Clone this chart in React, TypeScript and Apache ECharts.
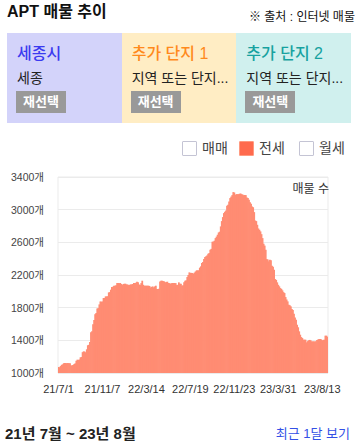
import React, { useEffect, useRef } from "react";
import * as echarts from "echarts";

const tickDates = ["21/7/1", "21/11/7", "22/3/14", "22/7/19", "22/11/23", "23/3/31", "23/8/13"];
const yTicks = [1000, 1400, 1800, 2200, 2600, 3000, 3400];

const listings = [
  1075, 1070, 1085, 1100, 1106, 1118, 1122, 1122, 1120, 1122,
  1118, 1120, 1090, 1096, 1098, 1110, 1118, 1150, 1163, 1160,
  1165, 1192, 1196, 1255, 1265, 1262, 1253, 1290, 1340, 1345,
  1380, 1500, 1510, 1596, 1650, 1720, 1735, 1790, 1795, 1840,
  1876, 1873, 1876, 1918, 1918, 1938, 1938, 1940, 1987, 1990,
  2020, 2053, 2055, 2069, 2069, 2075, 2102, 2102, 2100, 2102,
  2090, 2077, 2090, 2093, 2093, 2085, 2085, 2077, 2080, 2085,
  2085, 2090, 2102, 2102, 2105, 2118, 2110, 2085, 2077, 2100,
  2130, 2080, 2069, 2069, 2069, 2069, 2069, 2065, 2048, 2055,
  2060, 2048, 2060, 2069, 2028, 2030, 2032, 2120, 2130, 2130,
  2125, 2122, 2110, 2115, 2118, 2102, 2100, 2093, 2100, 2102,
  2102, 2102, 2100, 2077, 2080, 2110, 2093, 2093, 2069, 2075,
  2110, 2130, 2135, 2175, 2200, 2232, 2226, 2226, 2224, 2216,
  2230, 2244, 2257, 2257, 2257, 2290, 2306, 2346, 2360, 2395,
  2420, 2430, 2440, 2460, 2469, 2509, 2520, 2607, 2610, 2620,
  2652, 2670, 2693, 2721, 2730, 2795, 2860, 2909, 2958, 2975,
  2990, 3048, 3060, 3100, 3142, 3160, 3178, 3215, 3210, 3182,
  3190, 3190, 3190, 3195, 3198, 3190, 3185, 3178, 3180, 3178,
  3150, 3142, 3121, 3090, 3072, 3039, 3030, 2970, 2868, 2860,
  2815, 2770, 2754, 2734, 2700, 2652, 2583, 2560, 2509, 2395,
  2390, 2367, 2387, 2380, 2314, 2300, 2265, 2150, 2140, 2110,
  2080, 2061, 2040, 2030, 2012, 1990, 1979, 1930, 1900, 1877,
  1836, 1830, 1816, 1783, 1770, 1726, 1680, 1652, 1591, 1560,
  1510, 1469, 1440, 1428, 1408, 1408, 1408, 1375, 1390, 1400,
  1405, 1400, 1387, 1387, 1387, 1387, 1390, 1405, 1410, 1416,
  1416, 1412, 1400, 1405, 1408, 1457, 1457, 1445,
];

const panels = [
  { title: "세종시", sub: "세종", bg: "#D3D3FA", color: "#3A3AF0" },
  { title: "추가 단지 1", sub: "지역 또는 단지...", bg: "#FFEDC4", color: "#FF8A1C" },
  { title: "추가 단지 2", sub: "지역 또는 단지...", bg: "#D0F0EE", color: "#17A2A0" },
];

const legendItems = [
  { name: "매매", on: false },
  { name: "전세", on: true },
  { name: "월세", on: false },
];

const BARS_PER_TICK = 42;

function parseYmd(s: string): Date {
  const [y, m, d] = s.split("/").map(Number);
  return new Date(2000 + y, m - 1, d);
}
function fmt(d: Date): string {
  return `${d.getFullYear() % 100}/${d.getMonth() + 1}/${d.getDate()}`;
}
function buildCategories(n: number): string[] {
  const out: string[] = [];
  const ts = tickDates.map(parseYmd);
  for (let i = 0; i < n; i++) {
    const k = Math.floor(i / BARS_PER_TICK);
    const j = i % BARS_PER_TICK;
    if (k < ts.length - 1) {
      const span = (ts[k + 1].getTime() - ts[k].getTime()) / 86400000;
      const d = new Date(ts[k]);
      d.setDate(d.getDate() + Math.round((j * span) / BARS_PER_TICK));
      out.push(fmt(d));
    } else {
      const d = new Date(ts[ts.length - 1]);
      d.setDate(d.getDate() + j * 3);
      out.push(fmt(d));
    }
  }
  return out;
}

const FONT = "'Liberation Sans', 'Noto Sans CJK KR', sans-serif";

export default function App() {
  const ref = useRef<HTMLDivElement>(null);
  useEffect(() => {
    if (!ref.current) return;
    const chart = echarts.init(ref.current, undefined, { renderer: "svg" });
    const categories = buildCategories(listings.length);
    chart.setOption({
      animation: false,
      textStyle: { fontFamily: FONT },
      grid: {
        left: 58,
        right: 30,
        top: 17,
        height: 196,
        show: true,
        borderColor: "#EBEBEB",
        borderWidth: 1,
      },
      xAxis: {
        type: "category",
        data: categories,
        boundaryGap: true,
        axisLine: { show: false },
        axisTick: { show: false },
        axisLabel: {
          interval: BARS_PER_TICK - 1,
          fontSize: 11,
          color: "#333",
          margin: 10,
          fontFamily: FONT,
        },
      },
      yAxis: {
        type: "value",
        min: yTicks[0],
        max: yTicks[yTicks.length - 1],
        interval: 400,
        axisLine: { show: false },
        axisTick: { show: false },
        splitLine: { lineStyle: { color: "#EBEBEB" } },
        axisLabel: {
          fontSize: 10.5,
          color: "#444",
          margin: 14,
          fontFamily: FONT,
          formatter: (v: number) => `${v}개`,
        },
      },
      graphic: [
        {
          type: "text",
          x: 329,
          y: 29,
          style: {
            text: "매물 수",
            fontSize: 12,
            fill: "#333",
            textAlign: "right",
            textVerticalAlign: "middle",
            fontFamily: FONT,
          },
        },
      ],
      series: [
        {
          type: "bar",
          data: listings,
          barWidth: "170%",
          barGap: "-100%",
          itemStyle: { color: "#FF8C73" },
        },
      ],
    });
    return () => chart.dispose();
  }, []);

  const panelW = 344 / 3;

  return (
    <div
      style={{
        position: "absolute",
        left: 0,
        top: 0,
        width: 358,
        height: 447,
        overflow: "hidden",
        background: "#fff",
        fontFamily: FONT,
        color: "#222",
      }}
    >
      <div
        style={{
          position: "absolute",
          left: 7,
          top: 2,
          fontSize: 16,
          lineHeight: "20px",
          fontWeight: 700,
          color: "#111",
          whiteSpace: "nowrap",
        }}
      >
        APT 매물 추이
      </div>
      <div
        style={{
          position: "absolute",
          left: 249,
          top: 9,
          fontSize: 12,
          lineHeight: "16px",
          color: "#111",
          whiteSpace: "nowrap",
        }}
      >
        ※ 출처 : 인터넷 매물
      </div>

      {panels.map((p, i) => (
        <div
          key={i}
          style={{
            position: "absolute",
            left: 7 + i * panelW,
            top: 33,
            width: panelW,
            height: 90,
            background: p.bg,
          }}
        >
          <div
            style={{
              position: "absolute",
              left: 10,
              top: 11,
              fontSize: 16,
              lineHeight: "20px",
              color: p.color,
              fontWeight: 500,
              whiteSpace: "nowrap",
            }}
          >
            {p.title}
          </div>
          <div
            style={{
              position: "absolute",
              left: 10,
              top: 36,
              fontSize: 14,
              lineHeight: "18px",
              color: "#222",
              whiteSpace: "nowrap",
            }}
          >
            {p.sub}
          </div>
          <div
            style={{
              position: "absolute",
              left: 9,
              top: 58,
              width: 50,
              height: 22,
              background: "#999",
              color: "#fff",
              fontSize: 13,
              fontWeight: 700,
              lineHeight: "22px",
              textAlign: "center",
              whiteSpace: "nowrap",
            }}
          >
            재선택
          </div>
        </div>
      ))}

      {legendItems.map((l, i) => {
        const xs = [182, 239, 299];
        return (
          <div key={l.name}>
            <div
              style={{
                position: "absolute",
                left: xs[i],
                top: 141,
                width: 13,
                height: 13,
                border: l.on ? "1px solid #FF9A80" : "1px solid #C4C4D4",
                background: l.on ? "#FF6A4D" : "#fff",
                borderRadius: 1,
              }}
            />
            <div
              style={{
                position: "absolute",
                left: xs[i] + 20,
                top: 139,
                fontSize: 14,
                lineHeight: "18px",
                color: "#444",
                whiteSpace: "nowrap",
              }}
            >
              {l.name}
            </div>
          </div>
        );
      })}

      <div
        ref={ref}
        style={{ position: "absolute", left: 0, top: 160, width: 358, height: 240 }}
      />

      <div
        style={{
          position: "absolute",
          left: 5,
          top: 424,
          fontSize: 15,
          lineHeight: "20px",
          fontWeight: 600,
          color: "#222",
          whiteSpace: "nowrap",
        }}
      >
        21년 7월 ~ 23년 8월
      </div>
      <div
        style={{
          position: "absolute",
          right: 8,
          top: 425,
          fontSize: 13,
          lineHeight: "18px",
          color: "#3350E6",
          whiteSpace: "nowrap",
        }}
      >
        최근 1달 보기
      </div>
    </div>
  );
}
